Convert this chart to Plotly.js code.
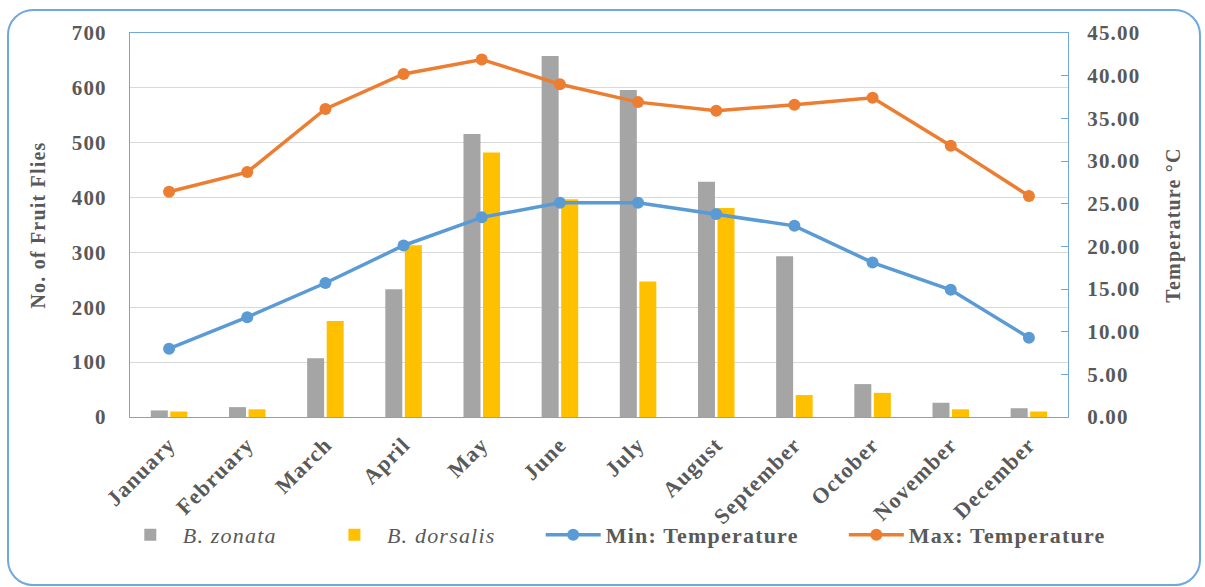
<!DOCTYPE html>
<html>
<head>
<meta charset="utf-8">
<script src="https://cdn.plot.ly/plotly-3.0.1.min.js"></script>
<style>
  html, body { margin: 0; padding: 0; background: #ffffff; }
  svg text { letter-spacing: 1.2px; }
  #wrap { position: relative; width: 1205px; height: 587px; }
  #chart { position: absolute; left: 0; top: 0; width: 1205px; height: 587px; }
  #frame { position: absolute; left: 7px; top: 9px; width: 1190px; height: 573px;
           border: 2px solid #6fa8dc; border-radius: 26px; pointer-events: none; }
</style>
</head>
<body>
<div id="wrap">
  <div id="chart"></div>
  <div id="frame"></div>
</div>
<script>
// ---- data ----
const months = ["January", "February", "March", "April", "May", "June",
                "July", "August", "September", "October", "November", "December"];
const zonata   = [12, 18, 107, 233, 516, 658, 596, 429, 293, 60, 26, 16];
const dorsalis = [10, 14, 175, 313, 482, 397, 247, 381, 40, 44, 14, 10];
const minTemp  = [8.0, 11.7, 15.7, 20.1, 23.4, 25.1, 25.1, 23.8, 22.4, 18.1, 14.9, 9.3];
const maxTemp  = [26.4, 28.7, 36.1, 40.2, 41.9, 39.0, 36.9, 35.9, 36.6, 37.4, 31.8, 25.9];
const leftTicks  = [0, 100, 200, 300, 400, 500, 600, 700];
const rightTicks = [0, 5, 10, 15, 20, 25, 30, 35, 40, 45];

const NB = "\u00A0";
const pad = n => NB.repeat(n);
const FONT = "Liberation Serif";
const TXT = "#595959";
const EDGE = "#6fa8dc";

const traces = [
  { type: "bar", name: "<i>B. zonata</i>" + pad(6), x: months, y: zonata,
    marker: { color: "#a5a5a5" }, yaxis: "y" },
  { type: "bar", name: "<i>B. dorsalis</i>" + pad(6), x: months, y: dorsalis,
    marker: { color: "#ffc000" }, yaxis: "y" },
  { type: "scatter", mode: "lines+markers", name: "<b>Min: Temperature</b>" + pad(6),
    x: months, y: minTemp, yaxis: "y2",
    line: { color: "#5b9bd5", width: 3.5 }, marker: { color: "#5b9bd5", size: 12 } },
  { type: "scatter", mode: "lines+markers", name: "<b>Max: Temperature</b>",
    x: months, y: maxTemp, yaxis: "y2",
    line: { color: "#ed7d31", width: 3.5 }, marker: { color: "#ed7d31", size: 12 } }
];

const layout = {
  width: 1205, height: 587,
  margin: { l: 130, r: 137, t: 33, b: 170 },
  paper_bgcolor: "rgba(0,0,0,0)", plot_bgcolor: "#ffffff",
  font: { family: FONT, color: TXT, size: 21 },
  barmode: "group", bargap: 0.5, bargroupgap: 0.13,
  showlegend: true,
  legend: {
    orientation: "h", x: -0.013, xanchor: "left", y: -0.307, yanchor: "middle",
    itemwidth: 55, font: { family: FONT, size: 22, color: TXT },
    traceorder: "normal"
  },
  xaxis: {
    type: "category", range: [-0.5, 11.5], tickangle: -45,
    showline: true, linecolor: EDGE, linewidth: 1,
    mirror: true, showgrid: false, ticks: "", ticklabelstandoff: 5,
    tickfont: { family: FONT, size: 22, color: TXT, weight: "bold" }
  },
  yaxis: {
    range: [0, 700], tickvals: leftTicks, ticktext: leftTicks.map(String),
    showline: true, linecolor: EDGE, linewidth: 1, mirror: true,
    showgrid: true, gridcolor: "#d9d9d9", gridwidth: 1, zeroline: false,
    ticks: "", ticklabelstandoff: 18,
    tickfont: { family: FONT, size: 21, color: TXT, weight: "bold" },
    title: { text: "No. of Fruit Flies", standoff: 20,
             font: { family: FONT, size: 20, color: TXT, weight: "bold" } }
  },
  yaxis2: {
    overlaying: "y", side: "right", range: [0, 45],
    tickvals: rightTicks, ticktext: rightTicks.map(v => v.toFixed(2)),
    showline: true, linecolor: EDGE, linewidth: 1, showgrid: false, zeroline: false,
    ticks: "inside", ticklen: 7, tickcolor: EDGE, ticklabelstandoff: 14,
    tickfont: { family: FONT, size: 21, color: TXT, weight: "bold" },
    title: { text: "Temperature °C", standoff: 26,
             font: { family: FONT, size: 20, color: TXT, weight: "bold" } }
  }
};

Plotly.newPlot("chart", traces, layout, { displayModeBar: false, staticPlot: true });
</script>
</body>
</html>
